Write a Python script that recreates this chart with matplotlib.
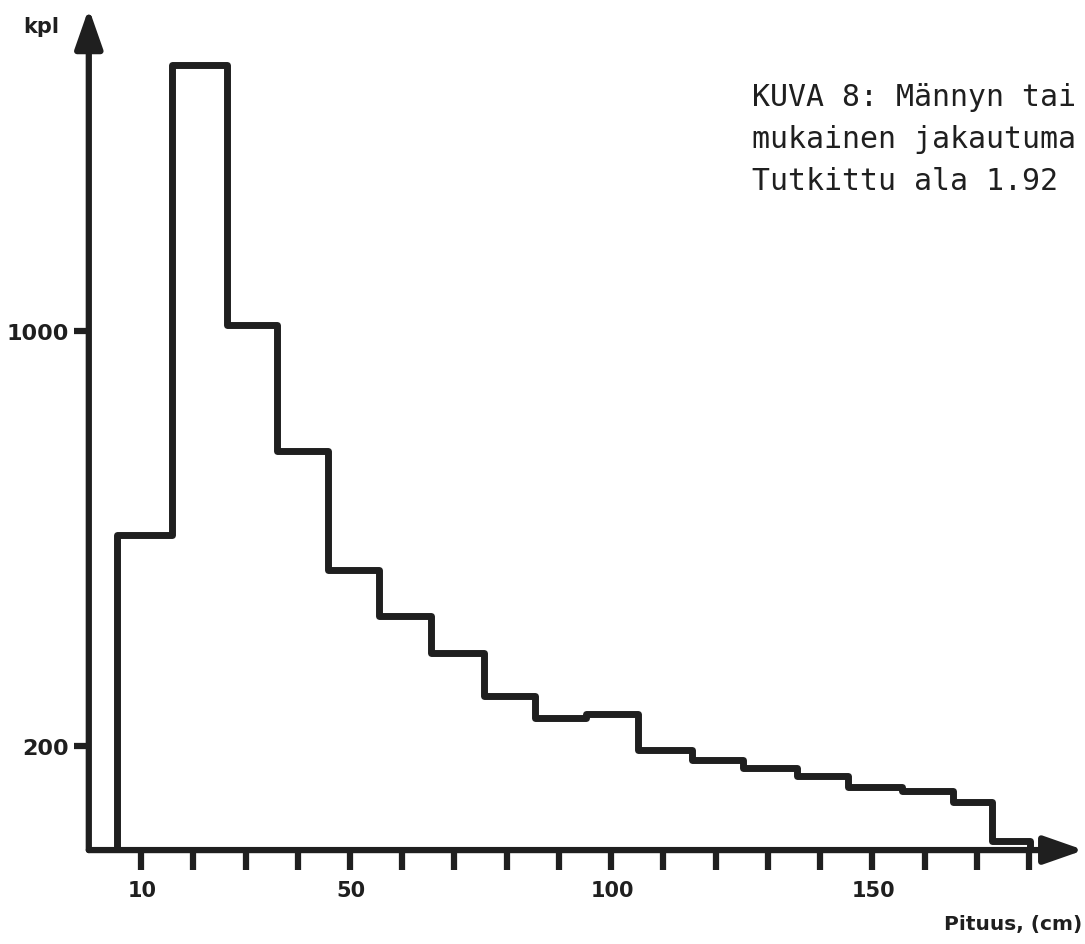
"""Männyn taimien pituusjakauma (KUVA 8) - porrashistogrammi."""
import matplotlib
matplotlib.use("Agg")
import matplotlib.pyplot as plt

# Luokkarajat (cm) ja taimien lukumäärät (kpl), luettu kuvasta
edges = [5.4, 15.9, 26.5, 36, 45.8, 55.6, 65.5, 75.6, 85.4, 95.1,
         105.1, 115.5, 125.2, 135.6, 145.3, 155.6, 165.4, 172.9, 180.2]
counts = [608, 1512, 1012, 769, 539, 451, 379, 297, 255, 262,
          193, 173, 158, 142, 121, 114, 92, 17]

x_ticks = list(range(10, 190, 10))
x_labels = {10: "10", 50: "50", 100: "100", 150: "150"}
y_ticks = [200, 1000]
y_labels = ["200", "1000"]

title_lines = ["KUVA 8: Männyn tai", "mukainen jakautuma", "Tutkittu ala 1.92"]

ink = "#1f1f1f"

fig = plt.figure(figsize=(10.85, 9.45), dpi=100)
ax = fig.add_axes([0, 0, 1, 1])
ax.set_xlim(-17.0, 190.7)
ax.set_ylim(-181, 1640)
ax.axis("off")

# histogrammi
ax.stairs(counts, edges, baseline=0, color=ink, linewidth=5, joinstyle="round")

# akselit nuolineen
arrow = dict(arrowstyle="-|>,head_length=0.8,head_width=0.28", color=ink,
             lw=4.5, mutation_scale=30, shrinkA=0, shrinkB=0)
ax.annotate("", xy=(0, 1622), xytext=(0, 0), arrowprops=arrow)
ax.annotate("", xy=(190.5, 0), xytext=(0, 0), arrowprops=arrow)

# jakoviivat
ax.vlines(x_ticks, -38, 0, color=ink, linewidth=4.5)
ax.hlines(y_ticks, -2.9, 0, color=ink, linewidth=4.5)

for v, lab in x_labels.items():
    ax.annotate(lab, xy=(v, 0), xytext=(1, -29), textcoords="offset points",
                ha="center", va="center", fontsize=15, fontweight="heavy",
                color=ink)
for v, lab in zip(y_ticks, y_labels):
    ax.annotate(lab, xy=(0, v), xytext=(-14, -1), textcoords="offset points",
                ha="right", va="center", fontsize=16, fontweight="heavy",
                color=ink)

fig.text(41 / 1085, 1 - 27 / 945, "kpl", ha="center", va="center",
         fontsize=15, fontweight="heavy", color=ink)
fig.text(1082 / 1085, 1 - 925 / 945, "Pituus, (cm)", ha="right", va="center",
         fontsize=14.5, fontweight="heavy", color=ink)

for i, line in enumerate(title_lines):
    fig.text(752 / 1085, 1 - (97 + 42.5 * i) / 945, line, ha="left",
             va="center", fontsize=21.5, family="DejaVu Sans Mono", color=ink)

fig.savefig("out.png", dpi=100, facecolor="white")
